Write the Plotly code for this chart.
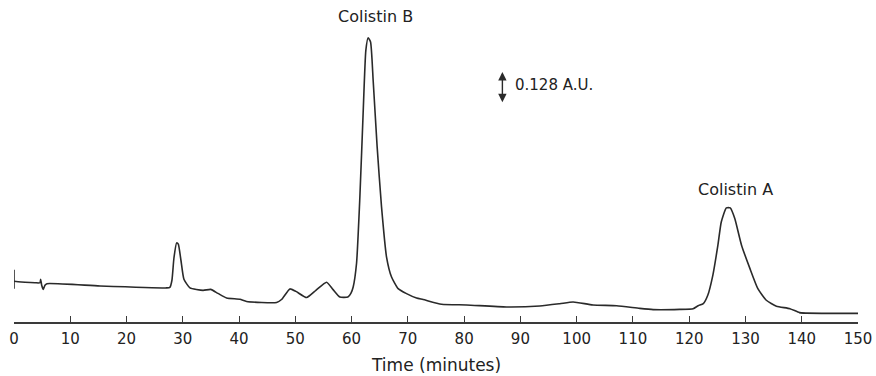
import plotly.graph_objects as go

# Chromatogram trace: retention time (min) and absorbance (A.U.)
time_min = [0.0, 1.95, 3.73, 4.62, 4.74, 4.92, 5.21, 5.5, 5.86, 15.28, 27.13, 27.7, 28.07, 28.42,
            28.9, 29.2, 29.67, 30.2, 31.27, 33.6, 34.95, 36.24, 37.79, 40.15, 41.34, 46.67, 47.6,
            49.03, 50.1, 52.0, 53.65, 55.55, 56.67, 57.91, 59.34, 59.87, 60.28, 60.88, 61.47, 62.05,
            62.53, 62.94, 63.37, 63.83, 64.54, 65.32, 66.21, 67.1, 68.27, 69.76, 71.54, 72.71, 75.98,
            80.42, 87.53, 93.45, 97.0, 99.36, 102.9, 107.1, 111.2, 113.6, 118.3, 120.7, 121.6, 122.5,
            123.3, 124.2, 125.1, 125.7, 126.6, 127.3, 128.1, 129.3, 130.8, 132.2, 133.7, 135.5, 137.9,
            139.6, 140.8, 150.0]
absorbance = [0.165, 0.161, 0.159, 0.159, 0.173, 0.149, 0.132, 0.149, 0.155, 0.146, 0.138, 0.140,
              0.169, 0.258, 0.320, 0.315, 0.250, 0.173, 0.138, 0.128, 0.132, 0.116, 0.097, 0.092,
              0.083, 0.079, 0.092, 0.134, 0.124, 0.099, 0.128, 0.161, 0.132, 0.101, 0.101, 0.116,
              0.142, 0.238, 0.506, 0.845, 1.100, 1.151, 1.134, 0.979, 0.709, 0.466, 0.263, 0.182,
              0.135, 0.115, 0.097, 0.091, 0.072, 0.069, 0.061, 0.065, 0.074, 0.081, 0.069, 0.066,
              0.055, 0.050, 0.051, 0.054, 0.066, 0.074, 0.108, 0.189, 0.311, 0.405, 0.462, 0.462,
              0.419, 0.311, 0.216, 0.135, 0.088, 0.064, 0.054, 0.038, 0.036, 0.035]

# injection marker (vertical bar at start)
inject_t = [0.0, 0.0]
inject_a = [0.135, 0.212]

# peak labels
peak_labels = ["Colistin B", "Colistin A"]
peak_label_t = [64.3, 128.2]
peak_label_a = [1.238, 0.535]

# scale bar
scale_bar_au = 0.128
scale_bar_t = 86.8
scale_bar_top = 1.012
scale_text = "0.128 A.U."

x_ticks = list(range(0, 151, 10))

LINE = "#2a2a2a"
FONT = "DejaVu Sans"

fig = go.Figure()
fig.add_trace(go.Scatter(x=time_min, y=absorbance, mode="lines",
                         line=dict(color=LINE, width=1.6, shape="spline", smoothing=0.5),
                         hoverinfo="skip", showlegend=False))
fig.add_trace(go.Scatter(x=inject_t, y=inject_a, mode="lines",
                         line=dict(color=LINE, width=1.6), hoverinfo="skip", showlegend=False))

for lab, t, a in zip(peak_labels, peak_label_t, peak_label_a):
    fig.add_annotation(x=t, y=a, text=lab, showarrow=False, xanchor="center", yanchor="middle",
                       font=dict(family=FONT, size=16, color="#222"))

fig.add_annotation(x=scale_bar_t, y=scale_bar_top, ax=scale_bar_t, ay=scale_bar_top - scale_bar_au,
                   xref="x", yref="y", axref="x", ayref="y", text="", showarrow=True,
                   arrowside="end+start", arrowhead=2, arrowsize=1.2, arrowwidth=1.4, arrowcolor=LINE)
fig.add_annotation(x=scale_bar_t + 1.8, y=scale_bar_top - scale_bar_au / 2 + 0.01, text=scale_text,
                   showarrow=False, xanchor="left", yanchor="middle",
                   font=dict(family=FONT, size=15, color="#222"))

fig.add_annotation(x=0.5, y=-0.135, xref="paper", yref="paper", text="Time (minutes)",
                   showarrow=False, xanchor="center", yanchor="middle",
                   font=dict(family=FONT, size=17, color="#222"))

fig.update_xaxes(range=[0, 150], tickvals=x_ticks, ticktext=[str(v) for v in x_ticks],
                 showline=True, linecolor="#3a3a3a", linewidth=1.5, ticks="inside", ticklen=6,
                 tickwidth=1.4, tickcolor="#3a3a3a", showgrid=False, zeroline=False,
                 ticklabelstandoff=2,
                 tickfont=dict(family=FONT, size=15, color="#222"))
fig.update_yaxes(range=[0, 322 / 247], visible=False, showgrid=False, zeroline=False)

fig.update_layout(width=876, height=376, margin=dict(l=14, r=18, t=0, b=54),
                  plot_bgcolor="white", paper_bgcolor="white")

fig.write_html("out.html", config={"displayModeBar": False},
               post_script="document.body.style.margin='0';document.body.style.padding='0';")
